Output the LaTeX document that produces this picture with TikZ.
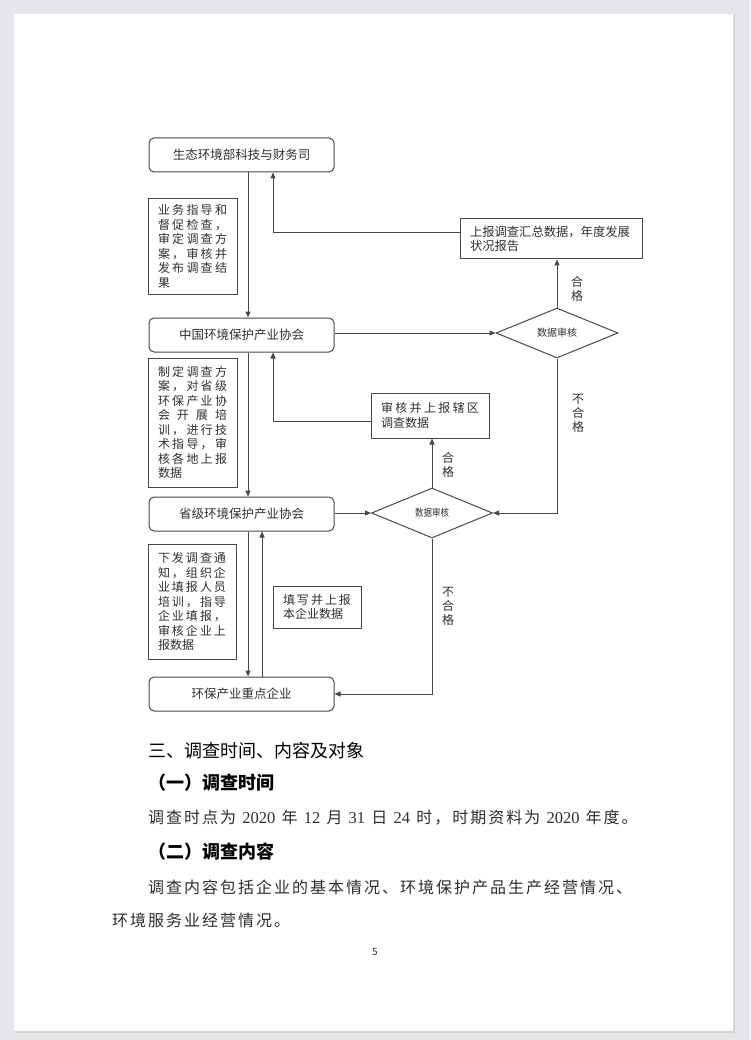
\documentclass[tikz,border=0pt]{standalone}
\usepackage{fontspec}
\usepackage{graphicx}
\setmainfont{Noto Sans CJK SC}
\newfontfamily\bodyfont[LetterSpace=12.5]{Noto Sans CJK SC}
\newfontfamily\digitfont{Liberation Serif}
\newcommand{\dg}[1]{{\digitfont\fontsize{16.5}{16.5}\selectfont #1}}
\newcommand{\gp}{\hspace{6.2pt}}
\usetikzlibrary{shapes.geometric,arrows.meta,calc}
\definecolor{pagebg}{HTML}{E6E6EA}
\definecolor{shad}{HTML}{D2D2D6}
\definecolor{ln}{HTML}{484848}
\definecolor{tx}{HTML}{303030}
\begin{document}
\begin{tikzpicture}[x=1pt,y=-1pt,
  rbox/.style={draw=ln, line width=1pt, rounded corners=5pt, minimum width=185pt, minimum height=34pt, inner sep=0pt, text=tx, font=\fontsize{12.5}{14}\selectfont},
  note/.style={draw=ln, line width=1pt, inner xsep=10pt, inner ysep=0pt, align=left, text=tx, font=\fontsize{12}{14.5}\selectfont},
  dia/.style={diamond, draw=ln, line width=1pt, inner sep=0pt, text=tx, font=\fontsize{10}{10}\selectfont},
  arr/.style={draw=ln, line width=1pt, -{Triangle[length=6pt,width=5pt]}},
  lbl/.style={text=tx, align=center, font=\fontsize{12}{14}\selectfont, inner sep=0pt},
  body/.style={anchor=west, inner sep=0pt, text=black!82}
]
% page
\fill[pagebg] (0,0) rectangle (750,1040);
\fill[shad] (15,15) rectangle (735,1033);
\fill[white] (14,14) rectangle (733,1031);
\useasboundingbox (0,0) rectangle (750,1040);

\coordinate (xl) at (248,0);
\coordinate (xr) at (273,0);
\coordinate (xe) at (262,0);

% main boxes
\node[rbox] (b1) at (241.5,155) {生态环境部科技与财务司};
\node[rbox] (b2) at (241.5,335) {中国环境保护产业协会};
\node[rbox] (b3) at (241.5,514) {省级环境保护产业协会};
\node[rbox] (b4) at (241.5,694) {环保产业重点企业};

% notes
\node[note, text width=69pt, minimum height=95pt] (n1) at (192.5,246.5) {%
\makebox[69pt][s]{业\hfill 务\hfill 指\hfill 导\hfill 和}\\
\makebox[69pt][s]{督\hfill 促\hfill 检\hfill 查\hfill ，}\\
\makebox[69pt][s]{审\hfill 定\hfill 调\hfill 查\hfill 方}\\
\makebox[69pt][s]{案\hfill ，\hfill 审\hfill 核\hfill 并}\\
\makebox[69pt][s]{发\hfill 布\hfill 调\hfill 查\hfill 结}\\
果};
\node[note, text width=69pt, minimum height=129pt] (n2) at (192.5,422.5) {%
\makebox[69pt][s]{制\hfill 定\hfill 调\hfill 查\hfill 方}\\
\makebox[69pt][s]{案\hfill ，\hfill 对\hfill 省\hfill 级}\\
\makebox[69pt][s]{环\hfill 保\hfill 产\hfill 业\hfill 协}\\
\makebox[69pt][s]{会\hfill 开\hfill 展\hfill 培}\\
\makebox[69pt][s]{训\hfill ，\hfill 进\hfill 行\hfill 技}\\
\makebox[69pt][s]{术\hfill 指\hfill 导\hfill ，\hfill 审}\\
\makebox[69pt][s]{核\hfill 各\hfill 地\hfill 上\hfill 报}\\
数据};
\node[note, text width=68pt, minimum height=115pt] (n3) at (192,601.5) {%
\makebox[68pt][s]{下\hfill 发\hfill 调\hfill 查\hfill 通}\\
\makebox[68pt][s]{知\hfill ，\hfill 组\hfill 织\hfill 企}\\
\makebox[68pt][s]{业\hfill 填\hfill 报\hfill 人\hfill 员}\\
\makebox[68pt][s]{培\hfill 训\hfill ，\hfill 指\hfill 导}\\
\makebox[68pt][s]{企\hfill 业\hfill 填\hfill 报\hfill ，}\\
\makebox[68pt][s]{审\hfill 核\hfill 企\hfill 业\hfill 上}\\
报数据};

% side boxes
\node[note, text width=162pt, minimum height=40pt, font=\fontsize{12.3}{14}\selectfont] (rep) at (551,239) {上报调查汇总数据，年度发展\\状况报告};
\node[note, text width=98pt, minimum height=45pt, font=\fontsize{12}{15}\selectfont] (chk) at (430,415.5) {%
\makebox[98pt][s]{审\hfill 核\hfill 并\hfill 上\hfill 报\hfill 辖\hfill 区}\\调查数据};
\node[note, text width=68pt, minimum height=42pt, font=\fontsize{12}{14}\selectfont] (fil) at (317,607) {%
\makebox[68pt][s]{填\hfill 写\hfill 并\hfill 上\hfill 报}\\本企业数据};

% diamonds
\node[dia, minimum width=122pt, minimum height=50pt] (d1) at (557,333) {数据审核};
\node[dia, minimum width=121pt, minimum height=50pt] (d2) at (432,513) {\scalebox{0.85}[1]{数据审核}};

% connectors
\draw[arr] (b1.south -| xl) -- (b2.north -| xl);
\draw[arr] ([yshift=6pt]rep.west) -| (b1.south -| xr);
\draw[arr] (b2.east |- d1.west) -- (d1.west);
\draw[arr] (d1.north) -- (d1.north |- rep.south);
\draw[arr] (d1.south) |- (d2.east);
\draw[arr] ([yshift=-5.5pt]chk.west) -| (b2.south -| xr);
\draw[arr] (b2.south -| xl) -- (b3.north -| xl);
\draw[arr] (b3.east |- d2.west) -- (d2.west);
\draw[arr] (d2.north) -- (d2.north |- chk.south);
\draw[arr] (d2.south) |- (b4.east);
\draw[arr] (b3.south -| xl) -- (b4.north -| xl);
\draw[arr] (b4.north -| xe) -- (b3.south -| xe);

% labels
\node[lbl] (l1) at (577,289) {合\\格};
\node[lbl] (l2) at (578,413) {不\\合\\格};
\node[lbl] (l3) at (448,465) {合\\格};
\node[lbl] (l4) at (448,606) {不\\合\\格};

% body text
\node[body, text=black, font=\fontsize{18}{18}\selectfont] (h1) at (148,751) {三、调查时间、内容及对象};
\node[body, text=black, font=\bfseries\fontsize{18}{18}\selectfont] (h2) at (148,783) {（一）调查时间};
\node[body, font=\bodyfont\fontsize{16}{16}\selectfont] (p1) at (148,818) {调查时点为\gp\dg{2020}\gp 年\gp\dg{12}\gp 月\gp\dg{31}\gp 日\gp\dg{24}\gp 时，时期资料为\gp\dg{2020}\gp 年度。};
\node[body, text=black, font=\bfseries\fontsize{18}{18}\selectfont] (h3) at (148,852) {（二）调查内容};
\node[body, font=\bodyfont\fontsize{16}{16}\selectfont] (p2) at (148,887) {调查内容包括企业的基本情况、环境保护产品生产经营情况、};
\node[body, font=\bodyfont\fontsize{16}{16}\selectfont] (p3) at (112,920) {环境服务业经营情况。};
\node[inner sep=0pt, text=black!80, font=\fontsize{10}{10}\selectfont] (pg) at (375,952) {5};
\end{tikzpicture}
\end{document}
